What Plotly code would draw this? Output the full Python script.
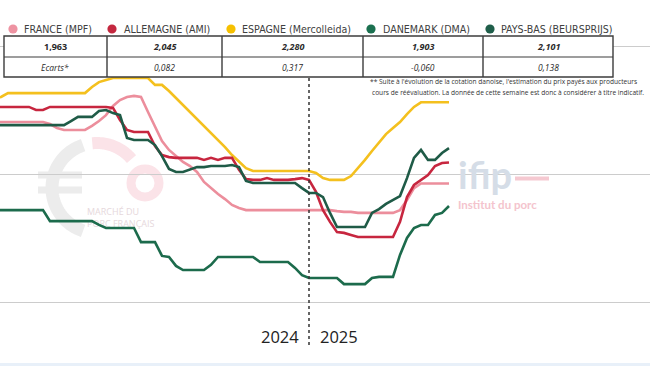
import numpy as np
import plotly.graph_objects as go

W, H = 650, 366

# ---------------- data ----------------
weeks_2024 = list(range(7, 53))
weeks_2025 = list(range(1, 21))
week_pos = weeks_2024 + [52 + w for w in weeks_2025]

france = [2.203, 2.203, 2.203, 2.203, 2.203, 2.203, 2.203, 2.203, 2.195, 2.180,
          2.172, 2.172, 2.172, 2.172, 2.188, 2.207, 2.230, 2.266, 2.289, 2.301,
          2.305, 2.301, 2.242, 2.188, 2.129, 2.094, 2.070, 2.047, 2.031, 2.008,
          1.969, 1.945, 1.922, 1.902, 1.879, 1.867,
          1.859, 1.859, 1.859, 1.859, 1.859, 1.859, 1.859, 1.859, 1.859, 1.859,
          1.859, 1.859, 1.859, 1.855, 1.852, 1.852,
          1.848, 1.848, 1.848, 1.848, 1.848, 1.848, 1.859, 1.898, 1.945,
          1.963, 1.963, 1.963, 1.963, 1.963]

allemagne = [2.262, 2.262, 2.262, 2.262, 2.262, 2.262, 2.250, 2.250,
             2.262, 2.262, 2.262, 2.262, 2.262, 2.262, 2.262, 2.262, 2.262,
             2.258, 2.211, 2.172, 2.164, 2.164, 2.164, 2.109, 2.074, 2.066,
             2.063, 2.063, 2.063, 2.063, 2.055, 2.063, 2.055, 2.063, 2.063,
             2.016, 1.980, 1.977, 1.977, 1.984, 1.977, 1.977, 1.977, 1.980,
             1.984, 1.977, 1.930, 1.859, 1.813, 1.773, 1.770, 1.762,
             1.754, 1.754, 1.754, 1.754, 1.754, 1.754,
             1.813, 1.910, 1.957, 1.977, 1.996, 2.031, 2.043, 2.045]

espagne = [2.293, 2.301,
           2.316, 2.316, 2.316, 2.316, 2.316, 2.316, 2.316, 2.316, 2.316, 2.316, 2.316, 2.316,
           2.340, 2.359, 2.367,
           2.375, 2.375, 2.375, 2.375, 2.375, 2.375,
           2.348, 2.348, 2.324, 2.297, 2.270, 2.242, 2.215, 2.188, 2.160, 2.133,
           2.105, 2.074, 2.047, 2.023,
           2.012, 2.012, 2.012, 2.012, 2.012, 2.012, 2.012, 2.012, 2.012,
           2.004, 1.984, 1.977, 1.977, 1.977,
           1.992, 2.023, 2.055, 2.090, 2.121, 2.156, 2.180, 2.203, 2.234, 2.262,
           2.280, 2.280, 2.280, 2.280, 2.280]

danemark = [1.859, 1.859, 1.859, 1.859, 1.859, 1.859, 1.859, 1.859,
            1.816, 1.816, 1.816, 1.816, 1.816, 1.816, 1.816,
            1.801, 1.789, 1.789, 1.789, 1.789, 1.789,
            1.734, 1.734, 1.734, 1.680, 1.676, 1.641,
            1.625, 1.625, 1.625, 1.625, 1.645,
            1.676, 1.676, 1.676, 1.676, 1.676, 1.676,
            1.656, 1.656, 1.656, 1.656, 1.656, 1.633, 1.605,
            1.594, 1.594, 1.594, 1.594, 1.594,
            1.570, 1.570, 1.570, 1.570, 1.594, 1.598, 1.598, 1.598,
            1.684, 1.750, 1.789, 1.801, 1.801, 1.840, 1.848, 1.875]

pays_bas = [2.191, 2.191, 2.191, 2.191, 2.191, 2.191, 2.191, 2.191, 2.191, 2.191, 2.191,
            2.207, 2.223, 2.223, 2.223, 2.246, 2.250, 2.238, 2.230, 2.141,
            2.133, 2.133, 2.133, 2.113, 2.070, 2.020, 2.008, 2.008, 2.016, 2.027,
            2.027, 2.031, 2.031, 2.031, 2.035, 2.027, 1.973,
            1.965, 1.965, 1.965, 1.965, 1.965, 1.965, 1.965,
            1.945, 1.926, 1.926, 1.910, 1.848,
            1.793, 1.793, 1.793, 1.793, 1.793,
            1.848, 1.863, 1.883, 1.898, 1.914, 1.984, 2.063, 2.094, 2.055, 2.055,
            2.082, 2.101]

for s in (france, allemagne, espagne, danemark, pays_bas):
    assert len(s) == len(week_pos), len(s)

series_names = ["FRANCE (MPF)", "ALLEMAGNE (AMI)", "ESPAGNE (Mercolleida)",
                "DANEMARK (DMA)", "PAYS-BAS (BEURSPRIJS)"]
latest_prices = ["1,963", "2,045", "2,280", "1,903", "2,101"]
ecarts = ["Ecarts*", "0,082", "0,317", "-0,060", "0,138"]
year_labels = ["2024", "2025"]
year_break = 52

line_colors = ["#EC8E9C", "#C7263F", "#F4C01E", "#1C6B4C", "#1F5B47"]
dot_colors = ["#EE93A2", "#C4283F", "#F6C000", "#1B7050", "#1F5E4A"]

LEGEND_FONT = "DejaVu Sans Condensed, Lato, sans-serif"

# ---------------- helpers (decoration placement in pixels) ----------------
def P(px, py):
    return px / W, 1 - py / H


def to_data(px, py):
    return (px + 55) / 7.0, 2.0 + (174 - py) / 256.0


def arc_path(cx, cy, r, a0, a1, n=40):
    angs = np.linspace(np.radians(a0), np.radians(a1), n)
    pts = [P(cx + r * np.cos(a), cy - r * np.sin(a)) for a in angs]
    return "M " + " L ".join(f"{x:.5f},{y:.5f}" for x, y in pts)


fig = go.Figure()

# faint watermark text drawn beneath the lines
wx, wy = to_data(87, 213)
wx2, wy2 = to_data(87, 225)
fig.add_trace(go.Scatter(x=[wx, wx2], y=[wy, wy2], mode="text",
                         text=["MARCHÉ DU", "PORC FRANÇAIS"],
                         textposition="middle right",
                         textfont=dict(family="Open Sans", size=9, color="#e6d8dc"),
                         showlegend=False, hoverinfo="skip"))

order = [0, 2, 1, 4, 3]
series = [france, allemagne, espagne, danemark, pays_bas]
for i in order:
    fig.add_trace(go.Scatter(x=week_pos, y=series[i], mode="lines",
                             name=series_names[i],
                             line=dict(color=line_colors[i], width=2.6),
                             showlegend=False))

shapes = []
annotations = []

# logo (watermark) ---------------------------------------------------------
gray_logo = "#ececec"
pink_logo = "#fbe3e8"
shapes.append(dict(type="path", path=arc_path(97, 188, 45, 108, 252), xref="paper", yref="paper",
                   line=dict(color=gray_logo, width=13), layer="below"))
for yb in (175, 190):
    x0, y0 = P(38, yb - 3.5)
    x1, y1 = P(82, yb + 3.5)
    shapes.append(dict(type="rect", x0=x0, x1=x1, y0=y0, y1=y1, xref="paper", yref="paper",
                       fillcolor=gray_logo, line=dict(width=0), layer="below"))
shapes.append(dict(type="path", path=arc_path(97, 188, 45, 96, 40), xref="paper", yref="paper",
                   line=dict(color=pink_logo, width=12), layer="below"))
cx0, cy0 = P(131, 169)
cx1, cy1 = P(159, 197)
shapes.append(dict(type="circle", x0=cx0, x1=cx1, y0=cy1, y1=cy0, xref="paper", yref="paper",
                   line=dict(color=pink_logo, width=9), layer="below"))

# ifip logo
ix, iy = P(456, 174)
annotations.append(dict(x=ix, y=iy, xref="paper", yref="paper", text="<b>ifip</b>", showarrow=False,
                        xanchor="left", yanchor="middle",
                        font=dict(family="Lato", size=38, color="#d5dde7")))
dx0, dy0 = P(515, 176.5)
dx1, dy1 = P(549, 180.5)
shapes.append(dict(type="rect", x0=dx0, x1=dx1, y0=dy1, y1=dy0, xref="paper", yref="paper",
                   fillcolor="#f5c9d1", line=dict(width=0), layer="below"))
tx, ty = P(456, 205)
annotations.append(dict(x=tx, y=ty, xref="paper", yref="paper", text="<b>Institut du porc</b>",
                        showarrow=False, xanchor="left", yanchor="middle",
                        font=dict(family="Lato", size=11.5, color="#f4c4cd")))

# legend --------------------------------------------------------------------
dot_x = [13, 112, 231, 371, 490]
text_x = [22, 122, 240, 381, 499]
for i in range(5):
    a0, b0 = P(dot_x[i] - 4.6, 29 - 4.6)
    a1, b1 = P(dot_x[i] + 4.6, 29 + 4.6)
    shapes.append(dict(type="circle", x0=a0, x1=a1, y0=b1, y1=b0, xref="paper", yref="paper",
                       fillcolor=dot_colors[i], line=dict(width=0)))
    lx, ly = P(text_x[i], 29)
    annotations.append(dict(x=lx, y=ly, xref="paper", yref="paper", text=series_names[i],
                            showarrow=False, xanchor="left", yanchor="middle",
                            font=dict(family=LEGEND_FONT, size=10.6, color="#404040")))

# table ---------------------------------------------------------------------
col_edges = [4, 107, 222, 363, 483, 613]
row_edges = [36, 57, 77]
border = "#3c3c3c"
t0x, t0y = P(col_edges[0], row_edges[0])
t1x, t1y = P(col_edges[-1], row_edges[-1])
shapes.append(dict(type="rect", x0=t0x, x1=t1x, y0=t1y, y1=t0y, xref="paper", yref="paper",
                   fillcolor="white", line=dict(color=border, width=1.4)))
mx0, my = P(col_edges[0], row_edges[1])
mx1, _ = P(col_edges[-1], row_edges[1])
shapes.append(dict(type="line", x0=mx0, x1=mx1, y0=my, y1=my, xref="paper", yref="paper",
                   line=dict(color=border, width=1.2)))
for ce in col_edges[1:-1]:
    cx, _ = P(ce, 0)
    shapes.append(dict(type="line", x0=cx, x1=cx, y0=t1y, y1=t0y, xref="paper", yref="paper",
                       line=dict(color=border, width=1.4)))
for i in range(5):
    cxm = (col_edges[i] + col_edges[i + 1]) / 2
    ax, ay = P(cxm, (row_edges[0] + row_edges[1]) / 2)
    txt = f"<b>{latest_prices[i]}</b>" if i == 0 else f"<b><i>{latest_prices[i]}</i></b>"
    annotations.append(dict(x=ax, y=ay, xref="paper", yref="paper", text=txt, showarrow=False,
                            xanchor="center", yanchor="middle",
                            font=dict(family="Open Sans", size=9, color="#2a2a2a")))
    bx, by = P(cxm, (row_edges[1] + row_edges[2]) / 2)
    annotations.append(dict(x=bx, y=by, xref="paper", yref="paper", text=f"<i>{ecarts[i]}</i>",
                            showarrow=False, xanchor="center", yanchor="middle",
                            font=dict(family="Open Sans", size=8.5, color="#2a2a2a")))

# footnote
fn1 = "** Suite à l'évolution de la cotation danoise, l'estimation du prix payés aux producteurs"
fn2 = "cours de réévaluation. La donnée de cette semaine est donc à considérer à titre indicatif."
for txt, fx, fy in ((fn1, 368, 81), (fn2, 370, 92)):
    ax, ay = P(fx, fy)
    annotations.append(dict(x=ax, y=ay, xref="paper", yref="paper", text=txt, showarrow=False,
                            xanchor="left", yanchor="middle",
                            font=dict(family="Open Sans", size=6.6, color="#333333")))

# year separator and labels
_, vy0 = P(0, 77)
_, vy1 = P(0, 345)
shapes.append(dict(type="line", x0=year_break, x1=year_break, y0=vy1, y1=vy0, xref="x", yref="paper",
                   line=dict(color="#333333", width=1.5, dash="dot")))
y_lab = P(0, 336)[1]
annotations.append(dict(x=P(301, 0)[0], y=y_lab, xref="paper", yref="paper", text=year_labels[0],
                        showarrow=False, xanchor="right", yanchor="middle",
                        font=dict(family="Open Sans", size=16.5, color="#222222")))
annotations.append(dict(x=P(318, 0)[0], y=y_lab, xref="paper", yref="paper", text=year_labels[1],
                        showarrow=False, xanchor="left", yanchor="middle",
                        font=dict(family="Open Sans", size=16.5, color="#222222")))

# bottom strip
s0x, s0y = P(0, 363)
shapes.append(dict(type="rect", x0=0, x1=1, y0=0, y1=s0y, xref="paper", yref="paper",
                   fillcolor="#e8f0f9", line=dict(width=0)))

fig.update_layout(
    width=W, height=H,
    margin=dict(l=0, r=0, t=0, b=0, pad=0),
    paper_bgcolor="white", plot_bgcolor="white",
    showlegend=False,
    xaxis=dict(range=[55 / 7, 705 / 7], visible=False, fixedrange=True),
    yaxis=dict(range=[1.25, 2.0 + 174 / 256], showticklabels=False, ticks="",
               showgrid=True, gridcolor="#cccccc", gridwidth=1, dtick=0.5, tick0=0,
               zeroline=False, showline=False, fixedrange=True),
    shapes=shapes, annotations=annotations,
)

fig.write_html("out.html", config={"displayModeBar": False},
               post_script="document.body.style.margin='0px';document.body.style.overflow='hidden';")
